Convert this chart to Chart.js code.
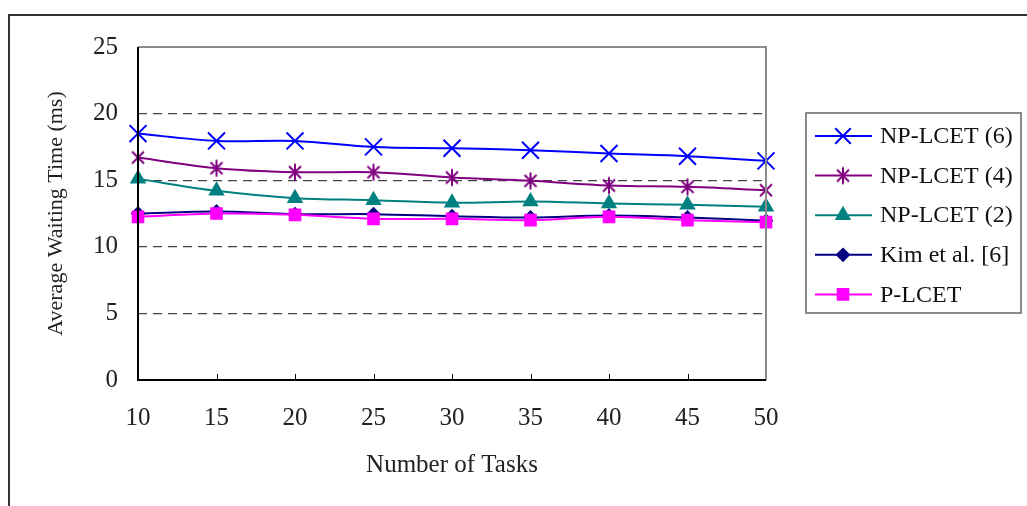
<!DOCTYPE html>
<html>
<head>
<meta charset="utf-8">
<title>Average Waiting Time</title>
<script src="https://cdn.jsdelivr.net/npm/chart.js@4.4.1/dist/chart.umd.min.js"></script>
<style>
    html, body { margin: 0; padding: 0; background: #fff; }
    #wrap { position: relative; width: 1027px; height: 506px; }
</style>
</head>
<body>
<div id="wrap"><canvas id="waitChart" width="1027" height="506"></canvas></div>
<script>
// Data
const taskCounts = [10, 15, 20, 25, 30, 35, 40, 45, 50];
const npLcet6 = [18.5, 17.95, 17.95, 17.5, 17.4, 17.25, 17.0, 16.8, 16.45];
const npLcet4 = [16.7, 15.9, 15.6, 15.6, 15.2, 14.95, 14.6, 14.5, 14.25];
const npLcet2 = [15.1, 14.2, 13.65, 13.5, 13.3, 13.4, 13.25, 13.15, 13.0];
const kimEtAl = [12.5, 12.65, 12.45, 12.45, 12.3, 12.2, 12.35, 12.2, 11.95];
const pLcet = [12.25, 12.5, 12.4, 12.1, 12.1, 12.0, 12.25, 12.0, 11.85];
const yTicks = [0, 5, 10, 15, 20, 25];

const serif = "'Liberation Serif', 'DejaVu Serif', serif";

// six-armed asterisk marker (X plus vertical bar)
function makeAsterisk(color) {
    const c = document.createElement('canvas');
    c.width = 20;
    c.height = 20;
    const g = c.getContext('2d');
    g.strokeStyle = color;
    g.lineWidth = 2;
    g.beginPath();
    g.moveTo(4, 4); g.lineTo(16, 16);
    g.moveTo(16, 4); g.lineTo(4, 16);
    g.moveTo(10, 1.5); g.lineTo(10, 18.5);
    g.stroke();
    return c;
}

const asterisk = makeAsterisk('#800080');

function series(label, data, color, style, radius, order) {
    return {
        label: label,
        data: data,
        borderColor: color,
        backgroundColor: color,
        borderWidth: 2,
        pointStyle: style,
        pointRadius: radius,
        pointHoverRadius: radius,
        pointBorderWidth: 2,
        pointBorderColor: color,
        pointBackgroundColor: color,
        tension: 0.35,
        fill: false,
        order: order
    };
}

// frame, inner x ticks and the boxed legend
const framePlugin = {
    id: 'framePlugin',
    afterDraw(chart) {
        const ctx = chart.ctx;
        const a = chart.chartArea;
        const xs = chart.scales.x;

        ctx.save();
        // outer picture frame
        ctx.strokeStyle = '#333';
        ctx.lineWidth = 2;
        ctx.beginPath();
        ctx.moveTo(9, 506);
        ctx.lineTo(9, 15);
        ctx.lineTo(1027, 15);
        ctx.stroke();

        // top / right border of plot area (gray)
        ctx.strokeStyle = '#8c8c8c';
        ctx.lineWidth = 2;
        ctx.beginPath();
        ctx.moveTo(a.left, a.top);
        ctx.lineTo(a.right, a.top);
        ctx.lineTo(a.right, a.bottom);
        ctx.stroke();

        // axes
        ctx.strokeStyle = '#000';
        ctx.lineWidth = 2;
        ctx.beginPath();
        ctx.moveTo(a.left, a.top);
        ctx.lineTo(a.left, a.bottom);
        ctx.lineTo(a.right, a.bottom);
        ctx.stroke();

        // tick marks pointing inward on x axis
        ctx.lineWidth = 1;
        ctx.beginPath();
        for (let i = 1; i < taskCounts.length - 1; i++) {
            const px = Math.round(xs.getPixelForValue(i)) + 0.5;
            ctx.moveTo(px, a.bottom);
            ctx.lineTo(px, a.bottom - 6);
        }
        ctx.stroke();

        // legend box
        const box = { left: 806, top: 113, right: 1021, bottom: 313 };
        ctx.strokeStyle = '#666';
        ctx.lineWidth = 1.5;
        ctx.strokeRect(box.left, box.top, box.right - box.left, box.bottom - box.top);

        ctx.font = '24px ' + serif;
        ctx.textBaseline = 'middle';
        ctx.textAlign = 'left';
        chart.data.datasets.forEach((ds, i) => {
            const y = 136 + i * 39.6;
            ctx.strokeStyle = ds.borderColor;
            ctx.lineWidth = 2;
            ctx.beginPath();
            ctx.moveTo(815, y);
            ctx.lineTo(872, y);
            ctx.stroke();
            if (Chart.helpers && Chart.helpers.drawPoint) {
                ctx.fillStyle = ds.pointBackgroundColor;
                ctx.strokeStyle = ds.pointBorderColor;
                Chart.helpers.drawPoint(ctx, {
                    pointStyle: ds.pointStyle,
                    radius: ds.legendRadius || ds.pointRadius,
                    rotation: 0,
                    borderWidth: 2
                }, 843, y);
            }
            ctx.fillStyle = '#111';
            ctx.fillText(ds.label, 880, y + 1);
        });
        ctx.restore();
    }
};

const ctx = document.getElementById('waitChart').getContext('2d');

const ds6 = series('NP-LCET (6)', npLcet6, '#0000ff', 'crossRot', 12, 5);
ds6.legendRadius = 11;
const ds4 = series('NP-LCET (4)', npLcet4, '#800080', asterisk, 9, 4);
const ds2 = series('NP-LCET (2)', npLcet2, '#008080', 'triangle', 7.5, 3);
const dsKim = series('Kim et al. [6]', kimEtAl, '#000080', 'rectRot', 6, 2);
const dsP = series('P-LCET', pLcet, '#ff00ff', 'rect', 7.5, 1);

new Chart(ctx, {
    type: 'line',
    data: {
        labels: taskCounts,
        datasets: [ds6, ds4, ds2, dsKim, dsP]
    },
    options: {
        responsive: false,
        animation: false,
        events: [],
        layout: {
            padding: { left: 43, top: 47, right: 261, bottom: 26 }
        },
        plugins: {
            legend: { display: false },
            tooltip: { enabled: false }
        },
        scales: {
            x: {
                type: 'category',
                offset: false,
                grid: { display: false, drawTicks: false },
                border: { display: false },
                ticks: {
                    color: '#222',
                    font: { family: serif, size: 25 },
                    padding: 23,
                    maxRotation: 0,
                    autoSkip: false
                },
                title: {
                    display: true,
                    text: 'Number of Tasks',
                    color: '#222',
                    font: { family: serif, size: 25 },
                    padding: 0
                },
                afterFit(scale) { scale.height = 100; }
            },
            y: {
                min: 0,
                max: 25,
                afterBuildTicks(scale) {
                    scale.ticks = yTicks.map(v => ({ value: v }));
                },
                grid: {
                    drawTicks: false,
                    lineWidth: 1.2,
                    color: c => (c.tick.value === 0 || c.tick.value === 25) ? 'rgba(0,0,0,0)' : '#444'
                },
                border: { display: false, dash: [9, 6] },
                ticks: {
                    color: '#222',
                    font: { family: serif, size: 25 },
                    padding: 20
                },
                title: {
                    display: true,
                    text: 'Average Waiting Time (ms)',
                    color: '#222',
                    font: { family: serif, size: 22 },
                    padding: 0
                },
                afterFit(scale) { scale.width = 95; }
            }
        }
    },
    plugins: [framePlugin]
});
</script>
</body>
</html>
